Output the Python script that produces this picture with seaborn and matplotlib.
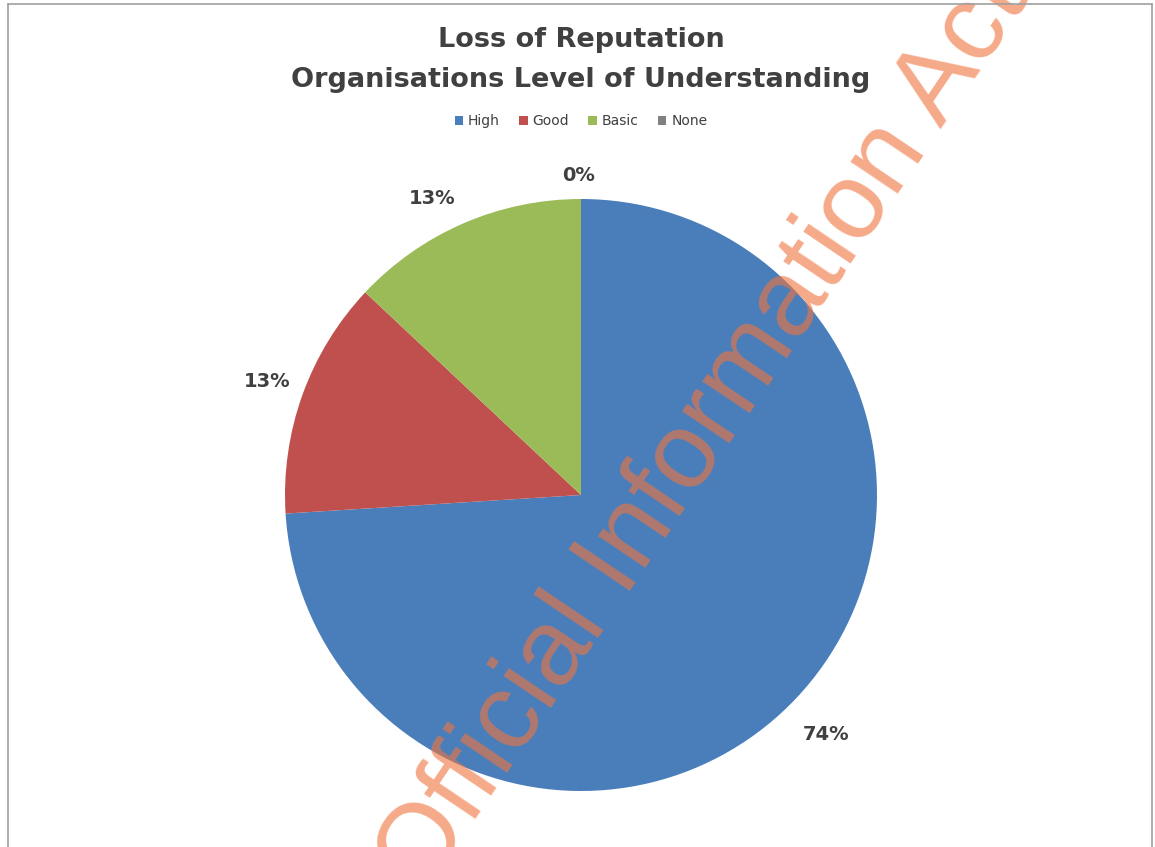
import matplotlib
matplotlib.use("Agg")
import matplotlib.pyplot as plt
from matplotlib.lines import Line2D
import numpy as np
import seaborn as sns

# Data
categories = ["High", "Good", "Basic", "None"]
shares = [74, 13, 13, 0]
title_lines = ["Loss of Reputation", "Organisations Level of Understanding"]
stamp_text = "Official Information Act"

sns.set_theme(style="white")
plt.rcParams["font.family"] = ["DejaVu Sans"]

colors = ["#4A7EBB", "#C0504D", "#9BBB59", "#808080"]
# radial distance (in radii) and small pixel nudge for each value label
label_dist = [1.155, 1.128, 1.12, 1.08]
label_nudge = [(-4, -5), (0, 0), (-17, -8), (-2, 0)]
text_gray = "#404040"

W, H = 1155, 847
fig = plt.figure(figsize=(W / 100, H / 100), dpi=100)
fig.patch.set_facecolor("white")
ax = fig.add_axes([0, 0, 1, 1])

cx, cy, r = 581, H - 495, 296
wedges, texts, autotexts = ax.pie(
    shares,
    colors=colors,
    startangle=90,
    counterclock=False,
    center=(cx, cy),
    radius=r,
    autopct=lambda p: f"{round(p):d}%",
    pctdistance=1.13,
    frame=True,
    wedgeprops=dict(linewidth=0),
    textprops=dict(fontsize=14, fontweight="bold", color=text_gray),
)
ax.set_xlim(0, W)
ax.set_ylim(0, H)
ax.set_aspect("equal")
ax.axis("off")

# place each value label just outside its wedge
for w, t, d, (nx, ny) in zip(wedges, autotexts, label_dist, label_nudge):
    ang = np.deg2rad((w.theta1 + w.theta2) / 2)
    t.set_position((cx + d * r * np.cos(ang) + nx, cy + d * r * np.sin(ang) + ny))

# Title
ax.text(cx, H - 40, title_lines[0], ha="center", va="center",
        fontsize=19.5, fontweight="bold", color=text_gray)
ax.text(cx, H - 80, title_lines[1], ha="center", va="center",
        fontsize=19.5, fontweight="bold", color=text_gray)

# Legend
ax.legend(wedges, categories, loc="center", bbox_to_anchor=(cx / W, (H - 121) / H),
          ncol=4, frameon=False, fontsize=10, handlelength=0.6, handleheight=0.6,
          handletextpad=0.35, columnspacing=1.4, labelcolor=text_gray)

# Chart border
for (x0, y0, x1, y1) in [(8, 4, 1152, 4), (8, 4, 8, 847), (1152, 4, 1152, 847)]:
    fig.add_artist(Line2D([x0 / W, x1 / W], [1 - y0 / H, 1 - y1 / H],
                          color="#A0A0A0", lw=1.2))

# Stamp across the chart
ax.text(703, H - 432, stamp_text, rotation=56, ha="center", va="center",
        fontsize=78, color="#F0753F", alpha=0.62,
        family=["Liberation Sans", "DejaVu Sans"], zorder=10)

fig.savefig("out.png", dpi=100)
